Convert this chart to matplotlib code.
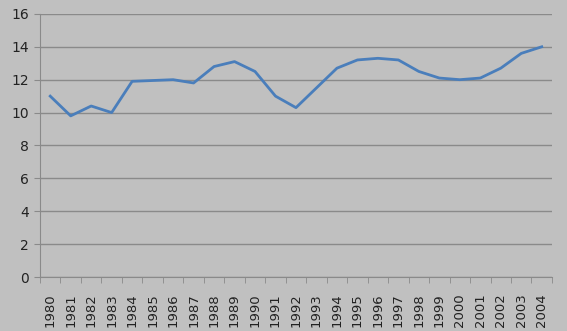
import matplotlib
matplotlib.use("Agg")
import matplotlib.pyplot as plt
import numpy as np

years = [str(y) for y in range(1980, 2005)]
values = [11.0, 9.8, 10.4, 10.0, 11.9, 11.95, 12.0, 11.8, 12.8, 13.1, 12.5, 11.0,
          10.3, 11.5, 12.7, 13.2, 13.3, 13.2, 12.5, 12.1, 12.0, 12.1, 12.7, 13.6, 14.0]
y_ticks = [0, 2, 4, 6, 8, 10, 12, 14, 16]

BG = "#c0c0c0"
GRID = "#8a8a8a"

fig = plt.figure(figsize=(5.67, 3.31), dpi=100, facecolor=BG)
ax = fig.add_axes([0.0705, 0.163, 0.903, 0.795], facecolor=BG)

x = np.arange(len(years))
ax.plot(x, values, color="#4a7ebb", lw=2.0, solid_joinstyle="round")

ax.set_xlim(-0.5, len(years) - 0.5)
ax.set_ylim(0, 16)
ax.set_yticks(y_ticks)
ax.set_yticklabels([str(v) for v in y_ticks], fontsize=10, color="#222222")
ax.yaxis.grid(True, color=GRID, lw=1.0)
ax.set_axisbelow(True)

ax.set_xticks(x)
ax.set_xticklabels(years, rotation=90, fontsize=9.5, color="#222222")
ax.set_xticks(np.arange(-0.5, len(years)), minor=True)
ax.tick_params(axis="x", which="major", length=0, pad=12)
ax.tick_params(axis="x", which="minor", length=4, color=GRID, direction="out")
ax.tick_params(axis="y", length=4, color=GRID, pad=4)

for side in ("top", "right"):
    ax.spines[side].set_visible(False)
for side in ("left", "bottom"):
    ax.spines[side].set_color(GRID)

fig.savefig("out.png", dpi=100, facecolor=BG)
